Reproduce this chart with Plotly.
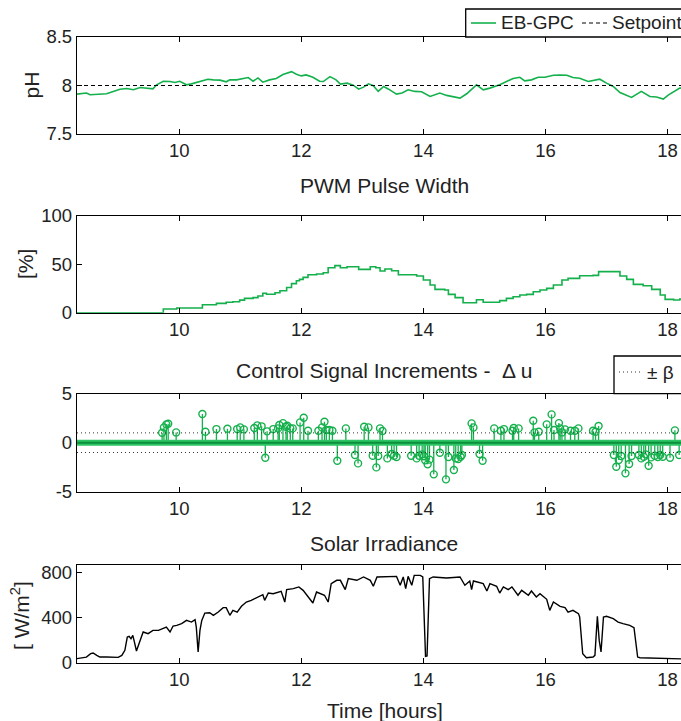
import plotly.graph_objects as go
from plotly.subplots import make_subplots

# ---------------- data ----------------
ph_t = [8.32, 8.48, 8.54, 8.70, 8.81, 8.92, 9.03, 9.14, 9.25, 9.36, 9.47, 9.57, 9.63, 9.74, 9.85,
        9.93, 10.01, 10.12, 10.20, 10.28, 10.39, 10.47, 10.56, 10.67, 10.77, 10.83, 10.94, 11.02,
        11.13, 11.21, 11.29, 11.37, 11.48, 11.59, 11.70, 11.84, 11.92, 12.00, 12.08, 12.19, 12.30,
        12.36, 12.47, 12.57, 12.64, 12.75, 12.85, 12.94, 13.02, 13.10, 13.18, 13.26, 13.35, 13.43,
        13.56, 13.65, 13.75, 13.86, 13.97, 14.11, 14.19, 14.27, 14.38, 14.49, 14.60, 14.71, 14.79,
        14.87, 14.98, 15.09, 15.25, 15.36, 15.47, 15.58, 15.66, 15.77, 15.88, 15.99, 16.13, 16.24,
        16.35, 16.45, 16.56, 16.70, 16.78, 16.89, 17.00, 17.11, 17.22, 17.41, 17.57, 17.71, 17.82,
        17.93, 18.01, 18.12, 18.20, 18.30]
ph_v = [7.911, 7.922, 7.904, 7.911, 7.915, 7.939, 7.962, 7.969, 7.956, 7.980, 7.969, 7.966, 8.007,
        8.044, 8.041, 8.031, 8.044, 8.007, 8.017, 8.031, 8.048, 8.065, 8.058, 8.055, 8.038, 8.058,
        8.058, 8.068, 8.082, 8.044, 8.078, 8.034, 8.058, 8.072, 8.113, 8.143, 8.116, 8.099, 8.109,
        8.085, 8.044, 8.041, 8.092, 8.058, 8.014, 8.024, 8.003, 7.962, 7.983, 8.017, 7.997, 7.939,
        7.990, 7.962, 7.911, 7.922, 7.956, 7.939, 7.935, 7.887, 7.904, 7.922, 7.898, 7.887, 7.870,
        7.915, 7.962, 8.007, 7.956, 7.973, 8.007, 8.041, 8.072, 8.085, 8.048, 8.058, 8.085, 8.085,
        8.106, 8.109, 8.106, 8.082, 8.075, 8.041, 8.051, 8.065, 8.024, 7.990, 7.928, 7.877, 7.939,
        7.887, 7.881, 7.860, 7.901, 7.939, 7.973, 7.980]
setpoint = 8.0

pwm_t = [8.32, 9.74, 9.96, 10.38, 10.61, 10.77, 10.88, 10.99, 11.07, 11.21, 11.29, 11.37, 11.43,
         11.57, 11.65, 11.76, 11.84, 11.92, 11.97, 12.03, 12.11, 12.25, 12.36, 12.44, 12.55, 12.64,
         12.75, 12.94, 13.13, 13.22, 13.29, 13.37, 13.48, 13.59, 13.89, 14.00, 14.11, 14.19, 14.35,
         14.41, 14.52, 14.65, 14.87, 14.98, 15.25, 15.36, 15.47, 15.58, 15.69, 15.80, 15.91, 16.02,
         16.13, 16.27, 16.37, 16.56, 16.78, 16.87, 17.11, 17.22, 17.33, 17.44, 17.60, 17.74, 17.88,
         17.96, 18.10, 18.20, 18.30]
pwm_v = [0, 3.8, 4.8, 8.2, 9.6, 10.7, 11.3, 13.0, 14.8, 15.5, 17.2, 20.0, 19.0, 20.6, 22.7, 26.0,
         30.0, 33.0, 34.4, 36.4, 39.2, 39.9, 41.2, 46.4, 48.5, 46.4, 47.4, 44.7, 47.4, 46.4, 43.0,
         45.0, 43.3, 39.2, 37.8, 33.7, 28.5, 24.0, 23.4, 18.9, 15.5, 10.3, 13.4, 10.7, 12.4, 14.8,
         16.5, 18.2, 18.9, 21.6, 23.4, 25.1, 28.5, 33.7, 35.4, 38.1, 38.5, 42.3, 42.3, 37.8, 34.4,
         29.2, 27.8, 24.0, 18.2, 13.7, 13.1, 14.1, 14.1]

du_t = [9.72, 9.75, 9.79, 9.82, 9.95, 10.38, 10.43, 10.61, 10.79, 10.95, 11.00, 11.06, 11.23, 11.28,
        11.35, 11.41, 11.44, 11.54, 11.62, 11.64, 11.70, 11.75, 11.77, 11.82, 11.86, 11.98, 12.04,
        12.11, 12.28, 12.34, 12.38, 12.41, 12.46, 12.51, 12.59, 12.73, 12.88, 12.93, 13.03, 13.10,
        13.17, 13.23, 13.26, 13.29, 13.33, 13.41, 13.48, 13.52, 13.56, 13.80, 13.89, 13.93, 13.98,
        14.01, 14.03, 14.07, 14.10, 14.17, 14.27, 14.37, 14.41, 14.50, 14.53, 14.57, 14.61, 14.63,
        14.79, 14.82, 14.92, 14.97, 15.16, 15.27, 15.32, 15.46, 15.48, 15.56, 15.80, 15.82, 15.89,
        16.02, 16.10, 16.14, 16.22, 16.24, 16.27, 16.32, 16.41, 16.48, 16.54, 16.78, 16.82, 16.87,
        17.12, 17.16, 17.20, 17.24, 17.31, 17.37, 17.41, 17.53, 17.57, 17.61, 17.64, 17.69, 17.73,
        17.79, 17.84, 17.88, 17.92, 18.04, 18.12, 18.19]
du_v = [1.02, 1.56, 1.87, 1.94, 1.05, 2.93, 1.12, 1.39, 1.43, 1.39, 1.56, 1.36, 1.50, 1.77,
        1.67, -1.53, 1.16, 1.39, 1.46, 1.80, 2.00, 1.63, 1.73, 1.46, 1.46, 2.07, 2.55,
        1.22, 1.22, 1.56, 2.14, 1.29, 1.29, 1.22, -1.84, 1.46, -1.26, -2.11, 1.63, 1.56,
        -1.33, -2.52, -1.36, 1.46, 1.19, -1.60, -1.16, -1.33, -1.46, -1.33, -1.60, -1.33, -1.19,
        -1.39, -1.80, -2.21, -1.73, -3.23, -1.02, -3.74, -1.46, -2.79, -1.60, -1.67, -1.43, -1.26,
        1.97, 1.56, -1.16, -1.84, 1.46, 1.22, 1.39, 1.22, 1.50, 1.46, 2.24, 1.05, 1.12,
        1.87, 2.89, 1.29, 2.00, 1.46, 1.05, 1.36, 1.22, 1.22, 1.46, 1.22, 1.12, 1.70,
        -1.26, -2.45, -1.77, -1.36, -3.13, -2.18, -1.36, -1.26, -1.60, -1.43, -1.19, -2.35, -1.50,
        -1.33, -1.46, -1.26, -1.43, -1.53, 1.26, -1.26]
beta = 1.0

irr_t = [8.32, 8.40, 8.48, 8.55, 8.59, 8.65, 8.70, 8.81, 8.92, 9.00, 9.06, 9.11, 9.15, 9.18, 9.21,
         9.24, 9.26, 9.30, 9.36, 9.41, 9.49, 9.57, 9.66, 9.74, 9.79, 9.85, 9.90, 9.96, 10.04, 10.12,
         10.20, 10.26, 10.28, 10.31, 10.34, 10.37, 10.42, 10.50, 10.56, 10.64, 10.72, 10.77, 10.83,
         10.88, 10.95, 11.02, 11.10, 11.18, 11.27, 11.37, 11.40, 11.46, 11.54, 11.62, 11.67, 11.73,
         11.76, 11.87, 11.96, 12.03, 12.11, 12.19, 12.25, 12.33, 12.38, 12.44, 12.49, 12.58, 12.64,
         12.72, 12.77, 12.91, 13.02, 13.13, 13.18, 13.24, 13.40, 13.56, 13.62, 13.67, 13.71, 13.75,
         13.81, 13.85, 13.95, 13.99, 14.035, 14.06, 14.10, 14.16, 14.38, 14.60, 14.68, 14.76, 14.79,
         14.82, 14.98, 15.04, 15.09, 15.20, 15.25, 15.31, 15.39, 15.45, 15.55, 15.61, 15.72, 15.77,
         15.85, 15.91, 16.02, 16.07, 16.13, 16.24, 16.32, 16.37, 16.45, 16.54, 16.56, 16.61, 16.67,
         16.78, 16.81, 16.85, 16.88, 16.91, 16.95, 17.00, 17.11, 17.19, 17.27, 17.38, 17.45, 17.51,
         17.55, 17.76, 17.98, 18.20, 18.30]
irr_v = [36, 41, 50, 80, 86, 65, 50, 50, 47, 47, 65, 110, 228, 234, 213, 243, 198, 104, 198, 273,
         258, 287, 287, 302, 317, 273, 326, 332, 347, 376, 361, 382, 317, 95, 287, 376, 441, 444,
         421, 450, 489, 489, 421, 465, 450, 501, 539, 554, 575, 604, 554, 619, 613, 628, 634, 539,
         649, 658, 673, 643, 590, 530, 628, 613, 599, 539, 702, 732, 732, 649, 747, 732, 762, 732,
         679, 762, 767, 767, 688, 762, 658, 767, 688, 776, 776, 762, 56, 60, 747, 762, 753, 762,
         688, 726, 649, 726, 702, 637, 702, 679, 619, 673, 649, 673, 599, 643, 599, 637, 584, 613,
         563, 465, 539, 501, 489, 450, 465, 436, 406, 80, 44, 50, 65, 412, 198, 95, 406, 412, 391,
         361, 347, 332, 311, 50, 44, 41, 36, 33, 33]

x_ticks = [10, 12, 14, 16, 18]
titles = ["PWM Pulse Width", "Control Signal Increments -  \u0394 u", "Solar Irradiance"]

# ---------------- styling ----------------
GREEN = "#14b04c"
FONT = "Liberation Sans, Arial, sans-serif"
W, H = 681, 721
ML = 77
PW = W - ML
XR = [8.326, 18.22]


def px(x):
    return (x - ML) / PW


def py(y):
    return 1 - y / H


fig = make_subplots(rows=4, cols=1)

fig.add_trace(go.Scatter(x=ph_t, y=ph_v, mode="lines", line=dict(color=GREEN, width=1.6),
                         showlegend=False), row=1, col=1)
fig.add_trace(go.Scatter(x=pwm_t, y=pwm_v, mode="lines", line=dict(color=GREEN, width=1.6, shape="hv"),
                         showlegend=False), row=2, col=1)

# stems
sx, sy = [], []
for t, v in zip(du_t, du_v):
    sx += [t, t, None]
    sy += [0, v, None]
fig.add_trace(go.Scatter(x=sx, y=sy, mode="lines", line=dict(color=GREEN, width=1.3),
                         showlegend=False), row=3, col=1)
fig.add_trace(go.Scatter(x=du_t, y=du_v, mode="markers",
                         marker=dict(symbol="circle-open", size=7, color=GREEN, line=dict(width=1.4)),
                         showlegend=False), row=3, col=1)
fig.add_trace(go.Scatter(x=irr_t, y=irr_v, mode="lines", line=dict(color="black", width=1.4),
                         showlegend=False), row=4, col=1)

# reference lines
fig.add_hline(y=setpoint, line=dict(color="black", width=1, dash="4px,3px"), row=1, col=1)
fig.add_hline(y=beta, line=dict(color="#333", width=1, dash="1px,3px"), row=3, col=1)
fig.add_hline(y=-beta, line=dict(color="#333", width=1, dash="1px,3px"), row=3, col=1)
fig.add_hline(y=0, line=dict(color="#2cc464", width=6), row=3, col=1)
fig.add_hline(y=0, line=dict(color="#0a8f3a", width=2), row=3, col=1)

domains = [(37, 134), (215.7, 312.7), (393.7, 491.7), (565, 662.7)]
yranges = [[7.5, 8.5], [0, 100], [-5, 5], [0, 868]]
yticks = [[7.5, 8, 8.5], [0, 50, 100], [-5, 0, 5], [0, 400, 800]]
yticktext = [["7.5", "8", "8.5"], ["0", "50", "100"], ["-5", "0", "5"], ["0", "400", "800"]]

axfont = dict(family=FONT, size=18.5, color="#222")
for i in range(4):
    top, bot = domains[i]
    xa = "xaxis" if i == 0 else f"xaxis{i+1}"
    ya = "yaxis" if i == 0 else f"yaxis{i+1}"
    fig.layout[xa].update(domain=[0, 1], range=XR, tickvals=x_ticks, ticks="inside", ticklen=5,
                          tickcolor="black", showline=True, linecolor="black", linewidth=1.3,
                          mirror="ticks", showgrid=False, zeroline=False, tickfont=axfont,
                          automargin=False)
    fig.layout[ya].update(domain=[py(bot), py(top)], range=yranges[i], tickvals=yticks[i],
                          ticktext=yticktext[i], ticks="inside", ticklen=5, tickcolor="black",
                          showline=True, linecolor="black", linewidth=1.3, showgrid=False,
                          zeroline=False, tickfont=axfont, automargin=False)

ann = []
tfont = dict(family=FONT, size=21, color="#222")
for txt, yc in zip(titles, [185, 370, 543]):
    ann.append(dict(text=txt, x=px(384), y=py(yc), xref="paper", yref="paper", showarrow=False,
                    xanchor="center", yanchor="middle", font=tfont))
ann.append(dict(text="Time [hours]", x=px(385), y=py(710), xref="paper", yref="paper", showarrow=False,
                xanchor="center", yanchor="middle", font=tfont))
for txt, xc, yc in [("pH", 31, 85.5), ("[%]", 25, 264), ("[ W/m<sup>2</sup>]", 20, 616)]:
    ann.append(dict(text=txt, x=px(xc), y=py(yc), xref="paper", yref="paper", showarrow=False,
                    xanchor="center", yanchor="middle", textangle=-90, font=tfont))

# legends (drawn manually, clipped at right like the reference)
lfont = dict(family=FONT, size=19, color="#222")
shapes = [
    dict(type="rect", xref="paper", yref="paper", x0=px(465.7), x1=px(760), y0=py(37), y1=py(9),
         line=dict(color="black", width=1.3), fillcolor="white"),
    dict(type="line", xref="paper", yref="paper", x0=px(471), x1=px(496), y0=py(23), y1=py(23),
         line=dict(color=GREEN, width=1.6)),
    dict(type="line", xref="paper", yref="paper", x0=px(582), x1=px(607), y0=py(23), y1=py(23),
         line=dict(color="black", width=1, dash="4px,3px")),
    dict(type="rect", xref="paper", yref="paper", x0=px(614), x1=px(760), y0=py(393.7), y1=py(356),
         line=dict(color="black", width=1.3), fillcolor="white"),
    dict(type="line", xref="paper", yref="paper", x0=px(619), x1=px(642), y0=py(372), y1=py(372),
         line=dict(color="#333", width=1, dash="1px,3px")),
]
ann.append(dict(text="EB-GPC", x=px(499), y=py(23), xref="paper", yref="paper", showarrow=False,
                xanchor="left", yanchor="middle", font=lfont))
ann.append(dict(text="Setpoint", x=px(610), y=py(23), xref="paper", yref="paper", showarrow=False,
                xanchor="left", yanchor="middle", font=lfont))
ann.append(dict(text="\u00b1 \u03b2", x=px(645), y=py(372), xref="paper", yref="paper", showarrow=False,
                xanchor="left", yanchor="middle", font=lfont))

fig.update_layout(width=W, height=H, margin=dict(l=ML, r=0, t=0, b=0, autoexpand=False),
                  paper_bgcolor="white", plot_bgcolor="white", annotations=ann,
                  shapes=list(fig.layout.shapes) + shapes, showlegend=False)

fig.write_html("out.html")
